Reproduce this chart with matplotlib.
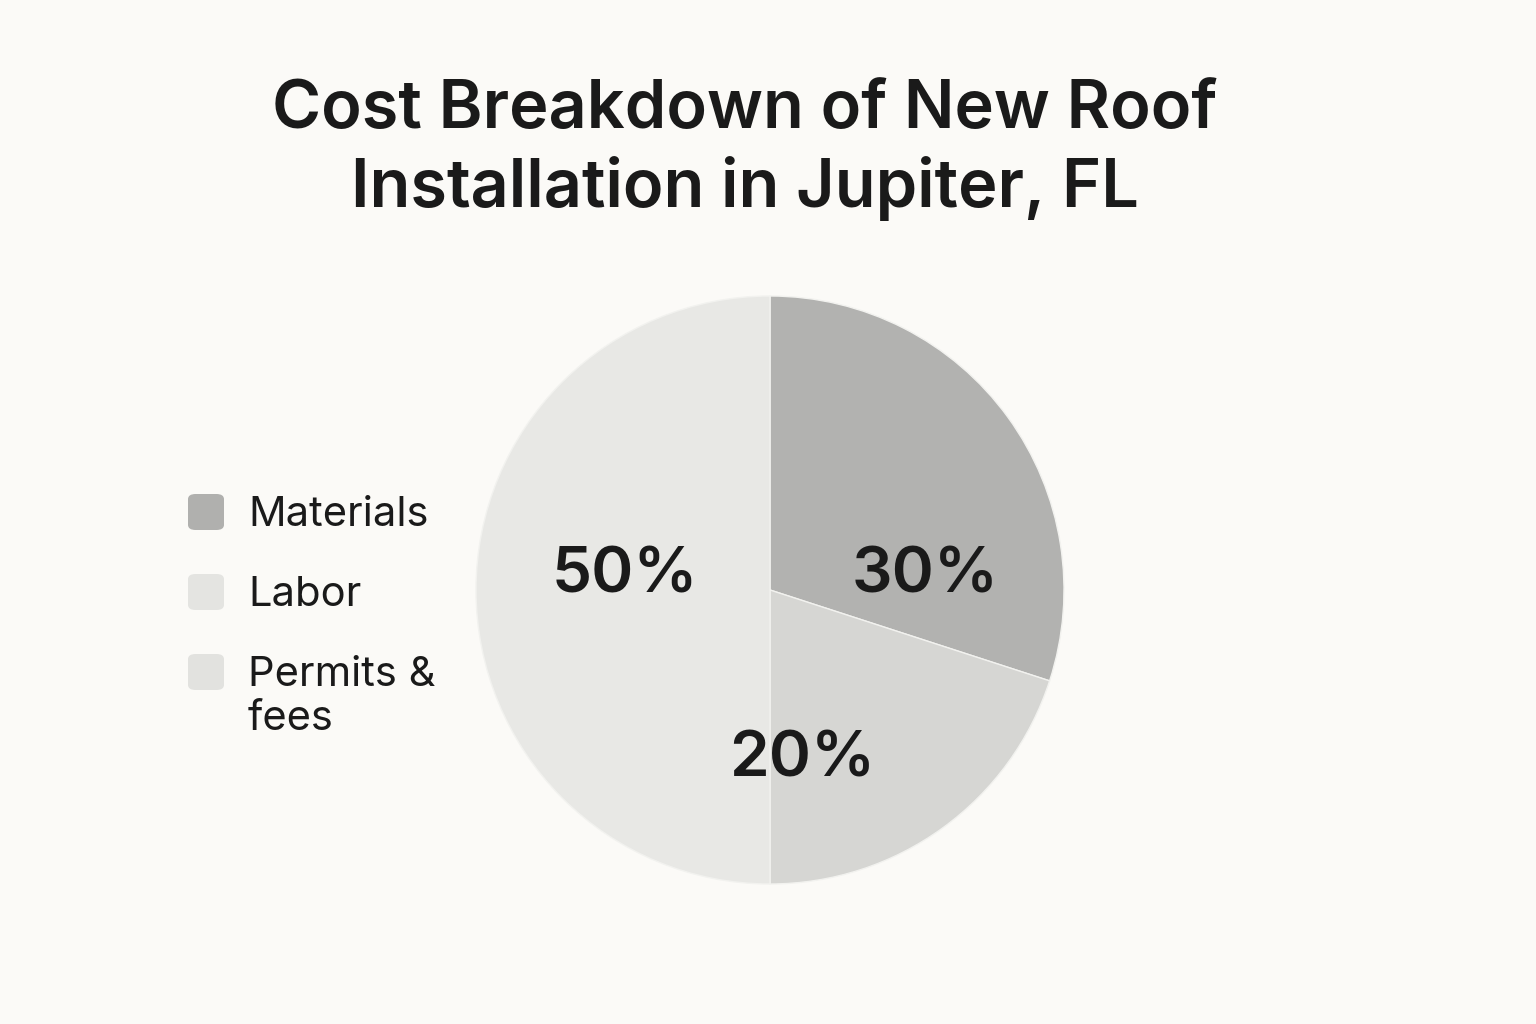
import matplotlib
matplotlib.use("Agg")
import matplotlib.pyplot as plt
from matplotlib.patches import FancyBboxPatch

# Data
categories = ["Materials", "Labor", "Permits & fees"]
shares = [30, 50, 20]
legend_labels = ["Materials", "Labor", "Permits &\nfees"]
legend_colors = ["#b0b0ae", "#e4e4e1", "#e2e2df"]

# Slice order around the pie (clockwise from 12 o'clock)
pie_order = [0, 2, 1]
slice_colors = {0: "#b2b2b0", 1: "#e8e8e5", 2: "#d6d6d3"}

title_lines = ["Cost Breakdown of New Roof", "Installation in Jupiter, FL"]

BG = "#fbfaf7"
TXT = "#1a1a1a"
plt.rcParams["font.family"] = ["Inter", "DejaVu Sans"]

W, H = 1536, 1024
fig = plt.figure(figsize=(W / 100, H / 100), dpi=100, facecolor=BG)


def fx(px):
    return px / W


def fy(py):
    return 1 - py / H


# Pie axes
R = 294
CX, CY = 770, 590
ax = fig.add_axes([fx(CX - R), fy(CY + R), 2 * R / W, 2 * R / H])
ax.set_facecolor(BG)
vals = [shares[i] for i in pie_order]
cols = [slice_colors[i] for i in pie_order]
ax.pie(vals, colors=cols, startangle=90, counterclock=False, radius=1.0,
       wedgeprops=dict(edgecolor="#f2f2ef", linewidth=1.0))
ax.set_xlim(-1, 1)
ax.set_ylim(-1, 1)
ax.set_aspect("equal")
ax.axis("off")

# Percentage labels inside the slices (x centre, baseline y, in radius units)
label_spots = {0: (0.527, -0.01), 1: (-0.493, -0.01), 2: (0.109, -0.633)}
for i in pie_order:
    x, y = label_spots[i]
    ax.text(x, y, f"{shares[i]}%", ha="center", va="baseline",
            fontsize=46, fontweight="semibold", color=TXT)

# Title
for line, base in zip(title_lines, [128, 207]):
    fig.text(fx(745), fy(base), line, ha="center", va="baseline",
             fontsize=48, fontweight="semibold", color=TXT)

# Legend
sq_top = [493, 573, 653]
for lab, col, top in zip(legend_labels, legend_colors, sq_top):
    fig.patches.append(FancyBboxPatch(
        (fx(188), fy(top + 37)), 36 / W, 36 / H,
        boxstyle="round,pad=0,rounding_size=0.005",
        transform=fig.transFigure, facecolor=col, edgecolor="none"))
    for j, part in enumerate(lab.split("\n")):
        fig.text(fx(248), fy(top + 33 + 44 * j), part, ha="left",
                 va="baseline", fontsize=30, color=TXT)

fig.savefig("out.png", dpi=100, facecolor=BG)
